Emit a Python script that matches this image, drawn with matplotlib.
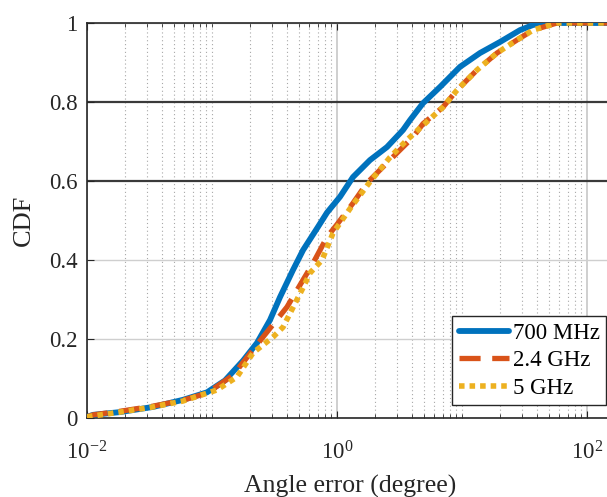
import matplotlib
matplotlib.use("Agg")
import matplotlib.pyplot as plt
import numpy as np
from matplotlib.ticker import FixedLocator, FuncFormatter, NullFormatter

plt.rcParams["font.family"] = ["Liberation Serif", "DejaVu Serif"]
plt.rcParams["mathtext.fontset"] = "custom"
plt.rcParams["mathtext.rm"] = "Liberation Serif"

# angle error (degree) and CDF values
err_700 = [0.01, 0.0112, 0.0184, 0.0337, 0.0586, 0.0912, 0.127, 0.177, 0.229, 0.291,
           0.350, 0.445, 0.535, 0.705, 0.832, 1.057, 1.343, 1.837, 2.512, 3.373, 3.837,
           4.875, 6.668, 9.64, 13.93, 20.14, 29.11, 36.98, 46.13, 250.0]
cdf_700 = [0.003, 0.008, 0.015, 0.028, 0.046, 0.065, 0.095, 0.145, 0.190, 0.248,
           0.306, 0.375, 0.425, 0.484, 0.520, 0.560, 0.610, 0.653, 0.686, 0.729, 0.754,
           0.797, 0.838, 0.889, 0.924, 0.952, 0.982, 0.995, 1.0, 1.0]

err_24 = [0.01, 0.0112, 0.0184, 0.0337, 0.0586, 0.0912, 0.147, 0.256, 0.398, 0.643,
          0.832, 1.0, 1.343, 1.738, 2.208, 3.020, 4.055, 4.875, 7.047, 9.12, 13.18,
          19.05, 27.54, 36.98, 57.54, 250.0]
cdf_24 = [0.003, 0.008, 0.017, 0.030, 0.045, 0.063, 0.108, 0.205, 0.281, 0.392,
          0.458, 0.490, 0.544, 0.595, 0.628, 0.671, 0.711, 0.745, 0.787, 0.830, 0.881,
          0.924, 0.957, 0.982, 1.0, 1.0]

err_5 = [0.01, 0.0184, 0.0337, 0.0586, 0.1096, 0.1585, 0.213, 0.308, 0.370, 0.535,
         0.608, 0.759, 0.929, 1.271, 1.837, 2.655, 3.631, 4.613, 7.047, 9.12, 13.18,
         19.05, 27.54, 36.98, 57.54, 250.0]
cdf_5 = [0.003, 0.015, 0.028, 0.043, 0.071, 0.104, 0.165, 0.205, 0.230, 0.330,
         0.367, 0.400, 0.468, 0.530, 0.598, 0.660, 0.704, 0.734, 0.787, 0.830, 0.881,
         0.924, 0.957, 0.982, 1.0, 1.0]

series_labels = ["700 MHz", "2.4 GHz", "5 GHz"]
y_ticks = [0, 0.2, 0.4, 0.6, 0.8, 1]
x_major = [1e-2, 1e0, 1e2]

fig = plt.figure(figsize=(6.07, 4.97), dpi=100)
ax = fig.add_axes([87 / 607, 1 - 418 / 497, 550 / 607, 395 / 497])

ax.plot(err_700, cdf_700, color="#0072BD", lw=4.2, solid_capstyle="round",
        label=series_labels[0], zorder=3)
ax.plot(err_24, cdf_24, color="#D95319", lw=3.8, linestyle=(0, (4.0, 2.2)),
        dash_capstyle="butt", label=series_labels[1], zorder=4)
ax.plot(err_5, cdf_5, color="#EDB120", lw=4.0, linestyle=(0, (1.0, 0.9)),
        dash_capstyle="butt", label=series_labels[2], zorder=5)

ax.set_xscale("log")
ax.set_xlim(1e-2, 10 ** 2.4)
ax.set_ylim(0, 1)

ax.xaxis.set_major_locator(FixedLocator(x_major))
minor = [m * 10.0 ** d for d in range(-2, 3) for m in range(2, 10)] + [1e-1, 1e1]
ax.xaxis.set_minor_locator(FixedLocator(minor))
ax.xaxis.set_minor_formatter(NullFormatter())
ax.xaxis.set_major_formatter(FuncFormatter(
    lambda v, p: r"$\mathregular{10^{%d}}$" % int(round(np.log10(v)))))
ax.set_yticks(y_ticks)
ax.set_yticklabels(["0", "0.2", "0.4", "0.6", "0.8", "1"])

ax.tick_params(which="both", direction="in", top=True, right=True, colors="#262626",
               labelcolor="#262626")
ax.tick_params(axis="x", which="major", length=5, labelsize=16.5, pad=17)
ax.tick_params(axis="x", which="minor", length=3)
ax.tick_params(axis="y", length=5, labelsize=16.5, pad=7)
for s in ax.spines.values():
    s.set_color("#262626")
    s.set_linewidth(1.2)

ax.xaxis.grid(True, which="major", color="#cfcfcf", lw=1.4, ls="-")
ax.xaxis.grid(True, which="minor", color="#a8a8a8", lw=0.8, ls=(0, (1, 2.5)))
ax.yaxis.grid(True, which="major", color="#cfcfcf", lw=1.0, ls="-")
for i, gl in enumerate(ax.get_ygridlines()):
    if y_ticks[i] in (0.6, 0.8):
        gl.set_color("#3a3a3a")
        gl.set_linewidth(1.6)
ax.set_axisbelow(True)

ax.set_xlabel("Angle error (degree)", fontsize=18.5, color="#262626")
ax.xaxis.set_label_coords((350 - 87) / 550, -0.145)
ax.set_ylabel("CDF", fontsize=19, color="#262626")
ax.yaxis.set_label_coords(-0.095, 0.5)

leg = ax.legend(loc="lower right", bbox_to_anchor=(606 / 607, 1 - 405 / 497),
                bbox_transform=fig.transFigure, borderaxespad=0, fontsize=16.5,
                handlelength=2.2, handletextpad=0.15, labelspacing=0.28,
                borderpad=0.28, fancybox=False, framealpha=1)
leg.get_frame().set_edgecolor("#262626")
leg.get_frame().set_linewidth(1.0)

fig.savefig("out.png", dpi=100)
